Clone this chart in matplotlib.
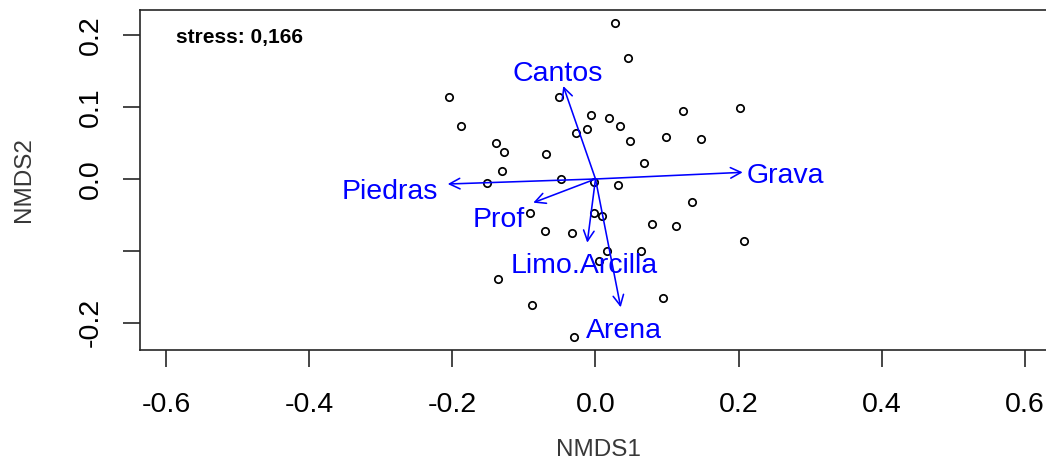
import matplotlib
matplotlib.use("Agg")
import matplotlib.pyplot as plt

# ---- data ----
site_x = [0.0272, 0.0450, -0.2050, -0.0506, -0.0067, 0.0193, 0.0342, 0.1226, 0.2022, -0.1874,
          -0.0119, -0.0272, 0.0478, 0.0989, 0.1478, -0.1385, -0.1278, -0.0687, 0.0682, -0.1302,
          -0.1511, -0.0482, -0.0017, 0.0318, 0.1352, -0.0919, -0.0017, 0.0084, 0.0789, 0.1120,
          -0.0712, -0.0325, 0.2078, 0.0163, 0.0631, 0.0042, -0.1362, 0.0943, -0.0887, -0.0300]
site_y = [0.2177, 0.1689, 0.1146, 0.1146, 0.0891, 0.0845, 0.0738, 0.0947, 0.0993, 0.0738,
          0.0692, 0.0636, 0.0529, 0.0585, 0.0557, 0.0506, 0.0372, 0.0348, 0.0223, 0.0116,
          -0.0056, -0.0004, -0.0035, -0.0079, -0.0320, -0.0469, -0.0469, -0.0520, -0.0627, -0.0655,
          -0.0731, -0.0755, -0.0859, -0.1006, -0.1006, -0.1138, -0.1397, -0.1657, -0.1759, -0.2196]

env_names = ["Cantos", "Grava", "Piedras", "Prof", "Limo.Arcilla", "Arena"]
env_x = [-0.0450, 0.2056, -0.2064, -0.0869, -0.0115, 0.0352]
env_y = [0.1295, 0.0093, -0.0070, -0.0330, -0.0887, -0.1787]
label_x = [-0.0531, 0.2658, -0.2877, -0.1345, -0.0158, 0.0401]
label_y = [0.1369, -0.0052, -0.0279, -0.0664, -0.1313, -0.2219]

xticks = [-0.6, -0.4, -0.2, 0.0, 0.2, 0.4, 0.6]
xticklabels = ["-0.6", "-0.4", "-0.2", "0.0", "0.2", "0.4", "0.6"]
yticks = [-0.2, -0.1, 0.0, 0.1, 0.2]
yticklabels = ["-0.2", "", "0.0", "0.1", "0.2"]
stress_text = "stress: 0,166"

# ---- figure ----
W, H = 1046, 463
fig = plt.figure(figsize=(W / 100, H / 100), dpi=100)
plt.rcParams['font.family'] = ['Liberation Sans', 'DejaVu Sans']

left_px, right_px, top_px, bottom_px = 140, 1056, 10, 350
ax = fig.add_axes([left_px / W, 1 - bottom_px / H,
                   (right_px - left_px) / W, (bottom_px - top_px) / H])
ax.set_xlim(-0.6362, 0.6432)
ax.set_ylim(-0.2382, 0.2354)

ax.plot(site_x, site_y, linestyle='none', marker='o', markersize=5.3,
        markerfacecolor='none', markeredgecolor='black', markeredgewidth=1.25, zorder=2)

for ex, ey in zip(env_x, env_y):
    ax.annotate('', xy=(ex, ey), xytext=(0, 0),
                arrowprops=dict(arrowstyle='->,head_length=0.75,head_width=0.38',
                                color='#0000FF', lw=1.15, shrinkA=0, shrinkB=0,
                                mutation_scale=10), zorder=3)
for name, lx, ly in zip(env_names, label_x, label_y):
    ax.text(lx, ly, name, color='#0000FF', fontsize=20.5, ha='center', va='baseline', zorder=4)

ax.text(-0.5859, 0.189, stress_text, fontsize=15, fontweight='bold', ha='left', va='baseline')

for s in ax.spines.values():
    s.set_color('#262626')
    s.set_linewidth(1.2)

ax.set_xticks(xticks)
ax.set_xticklabels(xticklabels)
ax.set_yticks(yticks)
ax.set_yticklabels(yticklabels)
ax.tick_params(axis='both', direction='out', length=12.2, width=1.2, color='#262626',
               labelsize=20.5, labelcolor='black')
ax.tick_params(axis='x', pad=18)
ax.tick_params(axis='y', pad=14, labelrotation=90)
for t in ax.get_yticklabels():
    t.set_va('center')

ax.set_xlabel('NMDS1', fontsize=17.5, color='#383838')
ax.set_ylabel('NMDS2', fontsize=17.5, color='#383838')
ax.xaxis.set_label_coords(0.5, -(450 - bottom_px) / (bottom_px - top_px))
ax.yaxis.set_label_coords(-(left_px - 24) / (right_px - left_px), 0.5)
ax.xaxis.label.set_va('center')
ax.yaxis.label.set_va('center')

fig.savefig('out.png', dpi=100)
